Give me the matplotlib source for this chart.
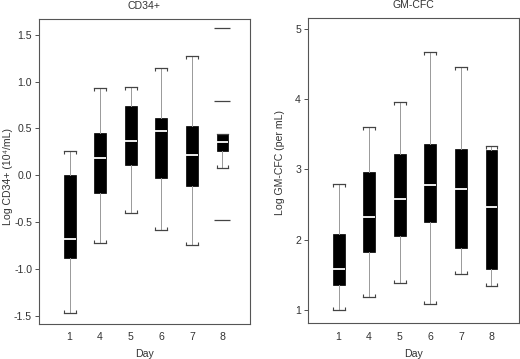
import matplotlib.pyplot as plt

plt.rcParams['font.family'] = ['Liberation Sans', 'DejaVu Sans']

days = ['1', '4', '5', '6', '7', '8']

# CD34+ (log 10^4/mL)
cd_whislo = [-1.47, -0.72, -0.40, -0.585, -0.75, 0.08]
cd_q1 = [-0.88, -0.19, 0.105, -0.03, -0.12, 0.258]
cd_med = [-0.685, 0.187, 0.365, 0.47, 0.215, 0.357]
cd_q3 = [0.0, 0.45, 0.74, 0.61, 0.525, 0.443]
cd_whishi = [0.26, 0.926, 0.94, 1.145, 1.27, 0.443]
cd_fliers = [[], [], [], [], [], [1.57, 0.79, -0.475]]

# GM-CFC (log per mL)
gm_whislo = [1.0, 1.19, 1.38, 1.085, 1.508, 1.337]
gm_q1 = [1.356, 1.83, 2.057, 2.25, 1.886, 1.579]
gm_med = [1.58, 2.327, 2.58, 2.774, 2.717, 2.47]
gm_q3 = [2.077, 2.967, 3.215, 3.357, 3.286, 3.276]
gm_whishi = [2.79, 3.607, 3.954, 4.666, 4.457, 3.337]
gm_fliers = [[], [], [], [], [], []]

TXT = '#333333'
FS = 7.6


def make_stats(lo, q1, med, q3, hi, fl):
    return [dict(whislo=a, q1=b, med=c, q3=d, whishi=e, fliers=f, label=lab)
            for a, b, c, d, e, f, lab in zip(lo, q1, med, q3, hi, fl, days)]


def draw(ax, stats):
    pos = list(range(1, len(stats) + 1))
    art = ax.bxp(stats, positions=pos, widths=0.39, patch_artist=True, showfliers=True,
                 boxprops=dict(facecolor='black', edgecolor='black', linewidth=0.5),
                 medianprops=dict(color='white', linewidth=1.3),
                 whiskerprops=dict(color='#999999', linewidth=0.7),
                 capprops=dict(color='#444444', linewidth=0.9),
                 capwidths=0.39,
                 flierprops=dict(marker='_', markersize=11, markeredgecolor='#444444',
                                 markeredgewidth=0.9))
    # bracket ends on the caps, pointing back toward the box
    for i, cap in enumerate(art['caps']):
        xs, ys = cap.get_xdata(), cap.get_ydata()
        if stats[i // 2]['whishi'] == stats[i // 2]['q3'] and i % 2 == 1:
            continue
        mk = 2 if i % 2 == 0 else 3
        ax.plot(xs, ys, linestyle='none', marker=mk, markersize=2.5,
                markeredgewidth=0.8, color='#444444')
    ax.set_xlim(0.0, 6.9)
    ax.set_xticks(pos)
    ax.set_xticklabels(days)
    ax.tick_params(axis='x', length=0, labelsize=FS, pad=6, colors=TXT)
    ax.tick_params(axis='y', length=3, width=0.6, labelsize=FS, pad=2, colors=TXT)
    for s in ax.spines.values():
        s.set_linewidth(0.8)
        s.set_color('#555555')
    ax.set_xlabel('Day', fontsize=FS, color=TXT, labelpad=5)


fig = plt.figure(figsize=(5.2, 3.59), dpi=100)
ax1 = fig.add_axes([39 / 520, 1 - 324 / 359, 211 / 520, 305 / 359])
ax2 = fig.add_axes([308 / 520, 1 - 323.3 / 359, 211 / 520, 305.6 / 359])

draw(ax1, make_stats(cd_whislo, cd_q1, cd_med, cd_q3, cd_whishi, cd_fliers))
ax1.set_ylim(-1.589, 1.668)
ax1.set_yticks([-1.5, -1.0, -0.5, 0.0, 0.5, 1.0, 1.5])
ax1.set_yticklabels(['-1.5', '-1.0', '-0.5', '0.0', '0.5', '1.0', '1.5'])
ax1.set_ylabel('Log CD34+ (10\u2074/mL)', fontsize=FS, color=TXT)
ax1.yaxis.set_label_coords(-0.125, 0.484)
ax1.set_title('CD34+', fontsize=FS, color=TXT, pad=7)

draw(ax2, make_stats(gm_whislo, gm_q1, gm_med, gm_q3, gm_whishi, gm_fliers))
ax2.set_ylim(0.81, 5.156)
ax2.set_yticks([1, 2, 3, 4, 5])
ax2.set_ylabel('Log GM-CFC (per mL)', fontsize=FS, color=TXT)
ax2.yaxis.set_label_coords(-0.109, 0.526)
ax2.set_title('GM-CFC', fontsize=FS, color=TXT, pad=7)

fig.savefig('out.png', dpi=100)
